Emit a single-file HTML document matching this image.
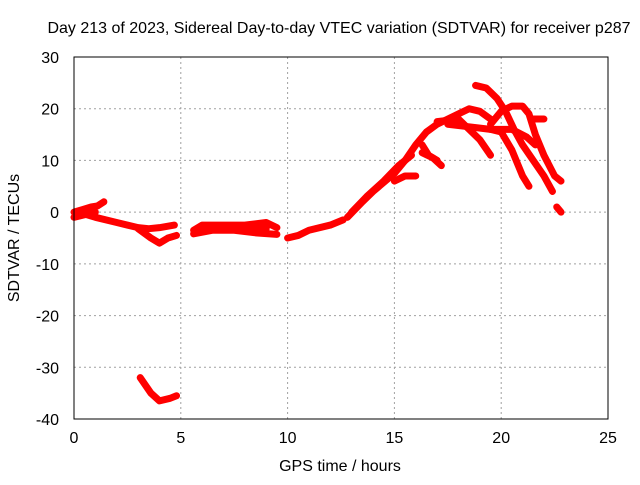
<!DOCTYPE html>
<html><head><meta charset="utf-8"><style>
body{margin:0;background:#fff;font-family:"Liberation Sans",sans-serif}
svg text{font-family:"Liberation Sans",sans-serif;font-size:16px;fill:#000}
</style></head><body>
<svg id="chart" width="640" height="480" xmlns="http://www.w3.org/2000/svg">
<text x="339" y="33" text-anchor="middle">Day 213 of 2023, Sidereal Day-to-day VTEC variation (SDTVAR) for receiver p287</text>
<g id="grid"></g><g id="ticks"></g><g id="series"></g>
<rect x="74" y="57" width="534" height="362" fill="none" stroke="#000" stroke-width="1"/>
<text x="340" y="471" text-anchor="middle">GPS time / hours</text>
<text transform="translate(19,238) rotate(-90)" text-anchor="middle">SDTVAR / TECUs</text>
</svg>
<script>
const xTicks=[0,5,10,15,20,25];
const yTicks=[30,20,10,0,-10,-20,-30,-40];
const arcA=[[0,0],[0.4,0.5],[0.8,1],[1.1,1.2],[1.4,2]];
const arcA2=[[0,-1],[0.5,-0.5],[1,0]];
const arcB=[[0.2,0],[1,-1],[2,-2],[3,-3],[3.5,-3.2],[4,-3],[4.7,-2.5]];
const arcC=[[3,-3.2],[3.6,-5],[4,-6],[4.4,-5],[4.8,-4.5]];
const arcD=[[3.1,-32],[3.6,-35],[4,-36.5],[4.5,-36],[4.8,-35.5]];
const arcE=[[5.6,-3.5],[6,-2.5],[7,-2.5],[8,-2.5],[9,-2],[9.5,-3]];
const arcE2=[[5.6,-4.2],[6.5,-3.5],[7.5,-3.5],[8.5,-4],[9.5,-4.3]];
const arcE3=[[6,-3.2],[7,-3],[8,-3.2],[9,-3.2]];
const arcF=[[10,-5],[10.5,-4.5],[11,-3.5],[12,-2.5],[12.6,-1.5]];
const arcRise=[[12.8,-1],[13.5,2],[14,4],[15,7.5],[15.5,10],[16,13],[16.5,15.5],[17,17],[18,19],[18.5,20],[19,19.5],[19.5,18]];
const arcRise2=[[13,0],[13.7,3],[14.5,6],[15.2,9],[15.8,11]];
const arcSide1=[[15,6],[15.5,7],[16,7]];
const arcSide2=[[16.3,13],[16.6,11],[17,10]];
const arcSide3=[[16.3,11.5],[16.8,10.5],[17.2,9]];
const arcBr1=[[17,17.5],[18,18],[18.5,16],[19,14],[19.5,11]];
const arcBr2=[[17.5,17],[18.5,16.5],[19.5,16],[20,15.5],[20.5,12],[21,7],[21.3,5]];
const arcBr3=[[18.8,24.5],[19.3,24],[19.8,22],[20.2,19.5],[20.6,16],[21,13],[21.5,10],[22,7],[22.4,4]];
const arcBr4=[[19.5,17],[20,19.5],[20.5,20.5],[21,20.5],[21.3,19],[21.6,15],[22,11],[22.5,7],[22.8,6]];
const arcBr5=[[21.5,18],[22,18]];
const arcBr6=[[19.5,16],[20.5,16],[21.2,14.5],[21.6,13]];
const arcEnd=[[22.6,1],[22.8,0]];
const allArcs=[arcA,arcA2,arcB,arcC,arcD,arcE,arcE2,arcE3,arcF,arcRise,arcRise2,arcSide1,arcSide2,arcSide3,arcBr1,arcBr2,arcBr3,arcBr4,arcBr5,arcBr6,arcEnd];
const X=h=>74+h*534/25, Y=v=>57+(30-v)*362/70;
const NS='http://www.w3.org/2000/svg';
const g=document.getElementById('grid'),t=document.getElementById('ticks'),s=document.getElementById('series');
function mk(tag,at,p){const e=document.createElementNS(NS,tag);for(const k in at)e.setAttribute(k,at[k]);p.appendChild(e);return e;}
xTicks.forEach(v=>{
 if(v>0&&v<25){const l=mk('line',{x1:X(v),x2:X(v),y1:57,y2:419,stroke:'#a0a0a0','stroke-dasharray':'2,3'},g);
 
 }
 const tx=mk('text',{x:X(v),y:443,'text-anchor':'middle'},t);tx.textContent=v;
 
 
});
yTicks.forEach(v=>{
 if(v<30&&v>-40){const l=mk('line',{x1:74,x2:608,y1:Y(v),y2:Y(v),stroke:'#a0a0a0','stroke-dasharray':'2,3'},g);
 
 }
 const tx=mk('text',{x:59,y:Y(v)+6,'text-anchor':'end'},t);tx.textContent=v;
 
 
});
allArcs.forEach(a=>{
 const p=mk('polyline',{points:a.map(d=>X(d[0])+','+Y(d[1])).join(' '),fill:'none',stroke:'#ff0000','stroke-width':7,'stroke-linejoin':'round','stroke-linecap':'round'},s);
 
 
});
</script>
</body></html>
